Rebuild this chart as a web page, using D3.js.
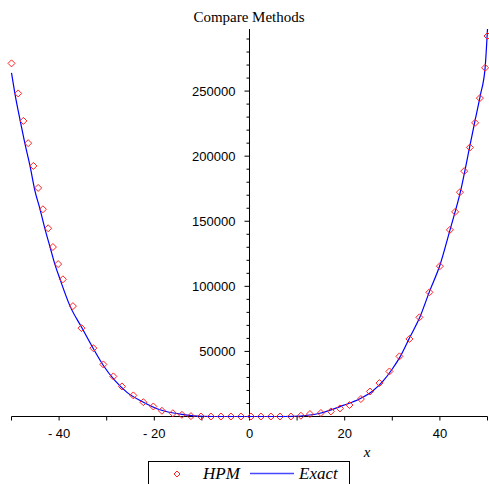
<!DOCTYPE html>
<html>
<head>
<meta charset="utf-8">
<script src="https://cdn.jsdelivr.net/npm/d3@7"></script>
<style>
  html, body { margin: 0; padding: 0; background: #fff; }
  svg { display: block; }
  .tick-label { font-family: "Liberation Sans", Arial, sans-serif; font-size: 13px; fill: #000; }
</style>
</head>
<body>
<div id="chart"></div>
<script>
// HPM points (red diamonds)
var hpmX = [-50, -48.6, -47.5, -46.5, -45.4, -44.4, -43.4, -42.3, -41.3, -40.2, -39.2,
    -37.1, -35.3, -32.8, -30.7, -28.6, -26.8, -24.4, -22.3, -20.2,
    -18.4, -16.1, -14.2, -12.3, -10.2, -8.1, -6, -3.9, -1.8,
    0.3, 2.4, 4.5, 6.4, 8.7,
    10.8, 12.7, 15, 17.1, 19, 21, 23.4, 25.3, 27.3, 29.4, 31.5, 33.6, 35.7, 37.8, 40,
    42.1, 43.2, 44.2, 45.1, 46.3, 47.4, 48.4, 49.5, 50];
var hpmY = [271300, 248200, 227100, 210000, 192500, 175600, 159200, 144600, 130200, 117100, 105400,
    84800, 67900, 52500, 40000, 30800, 23100, 16200, 11000, 7700,
    4400, 2500, 1300, 300, 0, 0, 0, 0, 0,
    0, 0, 0, 0, 0,
    600, 1900, 2700, 3900, 6200, 8800, 13400, 19200, 25700, 34600, 46200, 59600, 76200, 95400, 115500,
    143400, 157200, 172300, 188500, 206700, 225600, 244600, 267900, 292300];

// Exact solution (blue line)
var exactX = [-50, -49.3, -48.2, -47.2, -46.1, -45.1, -44, -43, -41.9, -40.9, -39.8, -37.7,
    -35.3, -32.8, -30.7, -28.3, -25.8, -22.3, -18.8, -13.9, -9.8, -5, 0, 5,
    9.2, 14.8, 19.7, 23.2, 26, 28, 30, 31.6, 33.7, 35.8, 37.9, 40, 42.2, 44.3, 46.4, 47.4, 48.5, 49.5, 50];
var exactY = [264000, 248500, 227700, 210000, 192300, 173800, 159200, 144600, 130200, 117100, 105400, 84800,
    68700, 52100, 39200, 27700, 18700, 11000, 5200, 1500, 200, 0, 0, 0,
    200, 2500, 8500, 13600, 20000, 27000, 36500, 45600, 61000, 76400, 96900, 116200, 144400, 172500, 209800, 227700, 246900, 268000, 297700];

var xMajor = [-40, -20, 0, 20, 40];
var yMajor = [50000, 100000, 150000, 200000, 250000];
var yMax = 297700;

var width = 489, height = 484;
var hpmColor = '#ff2020', exactColor = '#0000ff';

var svg = d3.select('#chart').append('svg')
    .attr('width', width)
    .attr('height', height);

var x = d3.scaleLinear().domain([-50, 50]).range([11.5, 487.5]);
var y = d3.scaleLinear().domain([0, yMax]).range([416.5, 29]);

// Title
svg.append('text')
    .attr('x', 249)
    .attr('y', 22)
    .attr('text-anchor', 'middle')
    .style('font-family', '"Liberation Serif", "Times New Roman", serif')
    .style('font-size', '15px')
    .text('Compare Methods');

// X axis through y = 0
var xAxisG = svg.append('g').attr('transform', 'translate(0,' + y(0) + ')');
xAxisG.append('line')
    .attr('x1', x(-50)).attr('x2', x(50))
    .attr('stroke', '#000');
xAxisG.selectAll('.xtick')
    .data(d3.range(-50, 51, 10))
    .enter().append('line')
    .attr('x1', d => x(d)).attr('x2', d => x(d))
    .attr('y1', 0).attr('y2', 4)
    .attr('stroke', '#000');
xAxisG.selectAll('.xlabel')
    .data(xMajor)
    .enter().append('text')
    .attr('class', 'tick-label')
    .attr('x', d => x(d))
    .attr('y', 21)
    .attr('text-anchor', 'middle')
    .text(d => d < 0 ? '- ' + Math.abs(d) : d);

// Y axis through x = 0
var yAxisG = svg.append('g').attr('transform', 'translate(' + x(0) + ',0)');
yAxisG.append('line')
    .attr('y1', y(0)).attr('y2', y(yMax))
    .attr('stroke', '#000');
yAxisG.selectAll('.ytick')
    .data(d3.range(10000, yMax, 10000))
    .enter().append('line')
    .attr('x1', d => d % 50000 === 0 ? -5 : -3).attr('x2', 0)
    .attr('y1', d => y(d)).attr('y2', d => y(d))
    .attr('stroke', '#000');
yAxisG.selectAll('.ylabel')
    .data(yMajor)
    .enter().append('text')
    .attr('class', 'tick-label')
    .attr('x', -14)
    .attr('y', d => y(d))
    .attr('dy', '0.35em')
    .attr('text-anchor', 'end')
    .text(d => d);

// x label
svg.append('text')
    .attr('x', 367)
    .attr('y', 457)
    .attr('text-anchor', 'middle')
    .style('font-family', '"Liberation Serif", "Times New Roman", serif')
    .style('font-style', 'italic')
    .style('font-size', '15px')
    .text('x');

// Exact line
var line = d3.line()
    .x(d => x(d[0]))
    .y(d => y(d[1]))
    .curve(d3.curveMonotoneX);
svg.append('path')
    .datum(exactX.map((v, i) => [v, exactY[i]]))
    .attr('fill', 'none')
    .attr('stroke', exactColor)
    .attr('stroke-width', 1.2)
    .attr('d', line);

// HPM diamonds
function diamond(cx, cy, r) {
    return 'M' + cx + ',' + (cy - r) + 'L' + (cx + r) + ',' + cy + 'L' + cx + ',' + (cy + r) + 'L' + (cx - r) + ',' + cy + 'Z';
}
svg.selectAll('.hpm')
    .data(hpmX.map((v, i) => [v, hpmY[i]]))
    .enter().append('path')
    .attr('class', 'hpm')
    .attr('d', d => diamond(x(d[0]), y(d[1]), 3.5))
    .attr('fill', 'none')
    .attr('stroke', hpmColor)
    .attr('stroke-width', 1);

// Legend
var legend = svg.append('g');
legend.append('rect')
    .attr('x', 148.5).attr('y', 461.5)
    .attr('width', 201).attr('height', 40)
    .attr('fill', '#fff')
    .attr('stroke', '#000');
legend.append('path')
    .attr('d', diamond(177, 474, 3))
    .attr('fill', 'none')
    .attr('stroke', hpmColor);
legend.append('text')
    .attr('x', 203).attr('y', 479)
    .style('font-family', '"Liberation Serif", "Times New Roman", serif')
    .style('font-style', 'italic')
    .style('font-size', '17px')
    .text('HPM');
legend.append('line')
    .attr('x1', 250).attr('x2', 294)
    .attr('y1', 473.5).attr('y2', 473.5)
    .attr('stroke', '#4848ff')
    .attr('stroke-width', 1.5);
legend.append('text')
    .attr('x', 299).attr('y', 479)
    .style('font-family', '"Liberation Serif", "Times New Roman", serif')
    .style('font-style', 'italic')
    .style('font-size', '17px')
    .text('Exact');
</script>
</body>
</html>
